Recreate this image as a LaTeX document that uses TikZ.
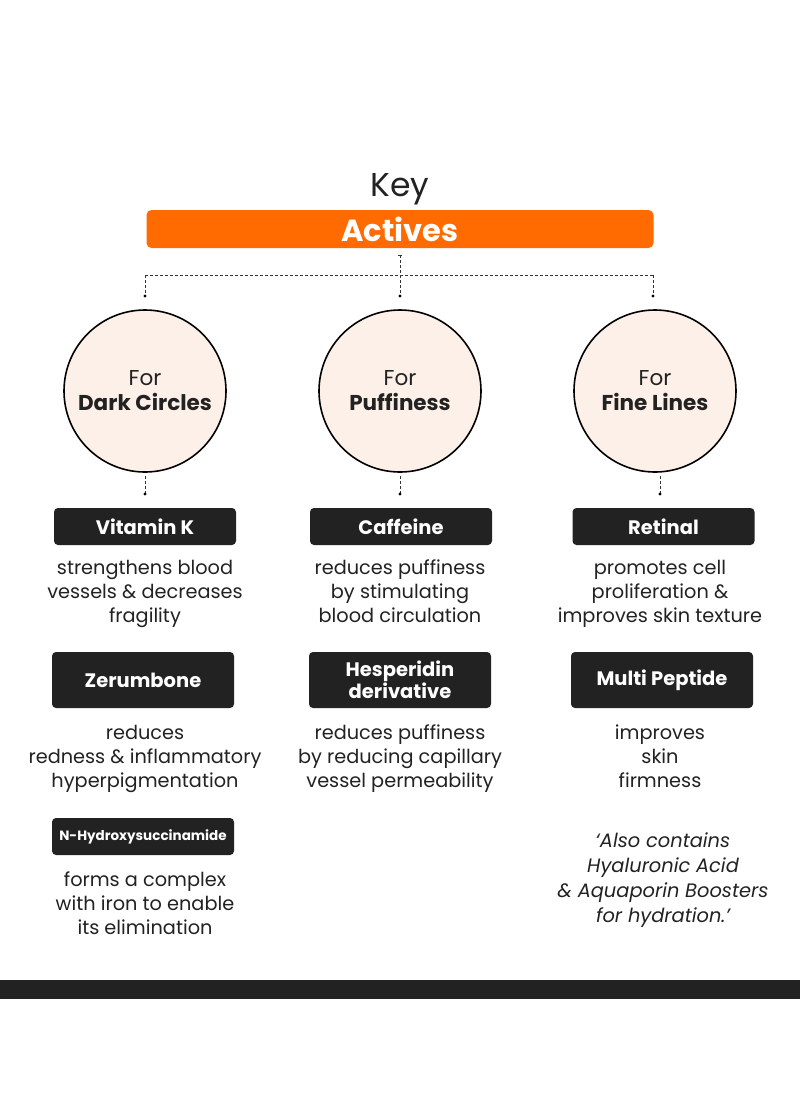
\documentclass[tikz,border=0pt]{standalone}
\usepackage{fontspec}
\setmainfont{Poppins}
\definecolor{orangeA}{HTML}{FF6B00}
\definecolor{peach}{HTML}{FDF0E8}
\definecolor{darkbox}{HTML}{222222}
\definecolor{txt}{HTML}{222222}
\definecolor{dash}{HTML}{333333}
\begin{document}
\begin{tikzpicture}[x=1pt,y=-1pt,
  circ/.style={circle,draw=black,line width=1.6pt,fill=peach,minimum size=162pt,inner sep=0pt,align=center,font=\fontsize{21.5}{26}\selectfont,text=txt},
  lbl/.style={rectangle,rounded corners=4pt,fill=darkbox,text=white,minimum width=182pt,minimum height=37pt,inner sep=0pt,align=center,font=\fontsize{19.5}{20}\selectfont\bfseries},
  lbltall/.style={lbl,minimum height=56pt},
  desc/.style={align=center,text=txt,font=\fontsize{19.3}{24}\selectfont,inner sep=0pt},
  dashline/.style={draw=dash,line width=0.6pt,dash pattern=on 3pt off 2pt},
  dotend/.style={fill=black,draw=none}
]
\useasboundingbox (0,0) rectangle (800,1096);
\fill[white] (0,0) rectangle (800,1096);

\node[text=txt,font=\fontsize{33}{34}\selectfont,inner sep=0pt] (key) at (400,189) {Key};
\node[rectangle,rounded corners=5pt,fill=orangeA,minimum width=507pt,minimum height=38pt,inner sep=0pt,text=white,font=\fontsize{30.5}{31}\selectfont\bfseries] (act) at (400,229) {Actives};

% connectors
\coordinate (t0) at (400,255);
\coordinate (jm) at (400,275);
\coordinate (jl) at (145,275);
\coordinate (jr) at (653,275);
\coordinate (el) at (145,296);
\coordinate (em) at (400,296);
\coordinate (er) at (653,296);
\draw[draw=dash,line width=0.6pt] (398,255) -- (402,255);
\draw[dashline] (t0) -- (em);
\draw[dashline] (jl) -- (jr);
\draw[dashline] (jl) -- (el);
\draw[dashline] (jr) -- (er);
\fill[dotend] (el) circle (1.6pt);
\fill[dotend] (em) circle (1.6pt);
\fill[dotend] (er) circle (1.6pt);

% circles
\node[circ] (c1) at (145,391) {For\\[-1pt]\textbf{Dark Circles}};
\node[circ] (c2) at (400,391) {For\\[-1pt]\textbf{Puffiness}};
\node[circ] (c3) at (655,391) {For\\[-1pt]\textbf{Fine Lines}};

\coordinate (d1) at (145,494);
\coordinate (d2) at (400,494);
\coordinate (d3) at (660,494);
\draw[dashline] (145,476) -- (d1);
\draw[dashline] (400,476) -- (d2);
\draw[dashline] (660,476) -- (d3);
\fill[dotend] (d1) circle (1.6pt);
\fill[dotend] (d2) circle (1.6pt);
\fill[dotend] (d3) circle (1.6pt);

% row 1 labels
\node[lbl] (vk) at (145,526.5) {Vitamin K};
\node[lbl] (caf) at (401,526.5) {Caffeine};
\node[lbl] (ret) at (663.5,526.5) {Retinal};

\node[desc,anchor=north] (vkd) at (145,560) {strengthens blood\\vessels \& decreases\\fragility};
\node[desc,anchor=north] (cafd) at (400,560) {reduces puffiness\\by stimulating\\blood circulation};
\node[desc,anchor=north] (retd) at (660,560) {promotes cell\\proliferation \&\\improves skin texture};

% row 2 labels
\node[lbltall] (zer) at (143,680) {Zerumbone};
\node[lbltall,font=\fontsize{19.5}{20}\selectfont\bfseries] (hes) at (400,680) {Hesperidin\\derivative};
\node[lbltall] (mp) at (662,680) {Multi Peptide};

\node[desc,anchor=north] (zerd) at (145,725) {reduces\\redness \& inflammatory\\hyperpigmentation};
\node[desc,anchor=north] (hesd) at (400,725) {reduces puffiness\\by reducing capillary\\vessel permeability};
\node[desc,anchor=north] (mpd) at (660,725) {improves\\skin\\firmness};

% row 3
\node[lbl,font=\fontsize{13.5}{15}\selectfont\bfseries] (nh) at (143,836.5) {N-Hydroxysuccinamide};
\node[desc,anchor=north] (nhd) at (145,872) {forms a complex\\with iron to enable\\its elimination};

\node[desc,anchor=north,font=\fontsize{19.4}{24.7}\selectfont\itshape] (note) at (663,833) {‘Also contains\\Hyaluronic Acid\\\& Aquaporin Boosters\\for hydration.’};

% bottom bar
\fill[darkbox] (0,980) rectangle (800,999);
\end{tikzpicture}
\end{document}
